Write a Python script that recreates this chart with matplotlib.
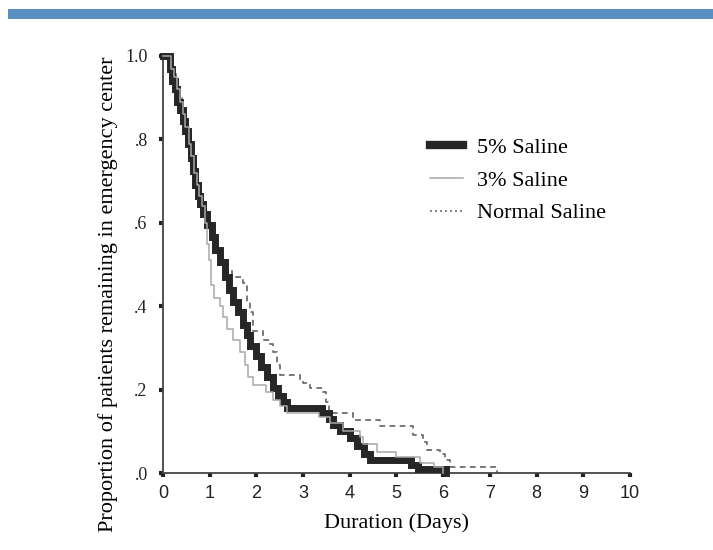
import matplotlib
matplotlib.use("Agg")
import matplotlib.pyplot as plt
from matplotlib.lines import Line2D

# Kaplan-Meier style step data: time in days, proportion still in the emergency center
five_t = [0.00, 0.15, 0.20, 0.26, 0.30, 0.36, 0.43, 0.48, 0.54, 0.60, 0.64, 0.69, 0.75,
          0.80, 0.86, 0.95, 1.05, 1.12, 1.22, 1.33, 1.42, 1.50, 1.60, 1.71, 1.80, 1.86,
          2.00, 2.10, 2.22, 2.35, 2.47, 2.57, 2.65, 3.40, 3.55, 3.64, 3.80, 4.00, 4.15,
          4.30, 4.43, 5.30, 5.45, 6.05]
five_s = [1.00, 0.97, 0.94, 0.92, 0.89, 0.87, 0.845, 0.82, 0.79, 0.755, 0.725, 0.69, 0.665,
          0.645, 0.62, 0.595, 0.565, 0.535, 0.505, 0.47, 0.44, 0.41, 0.385, 0.355, 0.33, 0.305,
          0.28, 0.255, 0.23, 0.205, 0.185, 0.17, 0.155, 0.145, 0.13, 0.115, 0.10, 0.085, 0.065,
          0.045, 0.03, 0.02, 0.01, 0.0]

three_t = [0.00, 0.18, 0.24, 0.30, 0.36, 0.42, 0.48, 0.55, 0.60, 0.66, 0.72, 0.78, 0.84,
           0.90, 0.94, 0.98, 1.03, 1.10, 1.22, 1.29, 1.37, 1.50, 1.65, 1.75, 1.82, 1.93,
           2.20, 2.35, 2.50, 2.65, 3.35, 3.57, 3.86, 4.22, 4.28, 4.58, 5.00, 5.50, 5.80, 6.00]
three_s = [1.00, 0.97, 0.95, 0.92, 0.89, 0.86, 0.83, 0.79, 0.76, 0.72, 0.69, 0.665, 0.64,
           0.60, 0.55, 0.51, 0.45, 0.42, 0.40, 0.375, 0.345, 0.32, 0.29, 0.26, 0.23, 0.21,
           0.195, 0.175, 0.16, 0.145, 0.135, 0.12, 0.10, 0.086, 0.07, 0.05, 0.038, 0.025, 0.015, 0.0]

normal_t = [0.00, 0.20, 0.27, 0.33, 0.40, 0.47, 0.53, 0.58, 0.64, 0.70, 0.76, 0.85, 0.95,
            1.05, 1.15, 1.25, 1.35, 1.47, 1.71, 1.80, 1.86, 1.93, 2.14, 2.28, 2.36, 2.45,
            2.50, 2.93, 3.00, 3.15, 3.43, 3.50, 3.56, 4.07, 4.65, 5.36, 5.57, 5.65, 5.93,
            6.04, 6.15, 7.15]
normal_s = [1.00, 0.97, 0.94, 0.90, 0.87, 0.83, 0.80, 0.76, 0.73, 0.69, 0.66, 0.63, 0.60,
            0.57, 0.54, 0.51, 0.49, 0.47, 0.455, 0.41, 0.385, 0.34, 0.32, 0.31, 0.29, 0.26,
            0.235, 0.225, 0.215, 0.205, 0.195, 0.17, 0.145, 0.127, 0.113, 0.09, 0.075, 0.055,
            0.045, 0.03, 0.015, 0.0]

labels = ["5% Saline", "3% Saline", "Normal Saline"]
x_ticks = list(range(0, 11))
y_ticks = [0.0, 0.2, 0.4, 0.6, 0.8, 1.0]
y_tick_labels = [".0", ".2", ".4", ".6", ".8", "1.0"]

serif = "Liberation Serif"
sans = "Liberation Sans"

fig = plt.figure(figsize=(7.13, 5.5), dpi=100)
ax = fig.add_axes([163 / 713, 1 - 473 / 550, 467 / 713, 417 / 550])

# blue banner across the top
fig.add_artist(plt.Rectangle((8 / 713, 1 - 19 / 550), 1, 10 / 550,
                             transform=fig.transFigure, color="#5a8fc4", lw=0))

ax.plot(normal_t, normal_s, drawstyle="steps-post", color="#6e6e6e", lw=1.3,
        dashes=(3.2, 2.4), clip_on=False, zorder=2)
ax.plot(five_t, five_s, drawstyle="steps-post", color="#262626", lw=5.0,
        solid_joinstyle="miter", clip_on=False, zorder=3)
ax.plot(three_t, three_s, drawstyle="steps-post", color="#a8a8a8", lw=1.1,
        clip_on=False, zorder=4)

ax.set_xlim(0, 10)
ax.set_ylim(0, 1)
for side in ["top", "right"]:
    ax.spines[side].set_visible(False)
for side in ["left", "bottom"]:
    ax.spines[side].set_color("#444444")
    ax.spines[side].set_linewidth(1.3)

ax.set_xticks(x_ticks)
ax.set_xticklabels([str(t) for t in x_ticks], fontfamily=sans, fontsize=13, color="#222222")
ax.set_yticks(y_ticks)
ax.set_yticklabels(y_tick_labels, fontfamily=serif, fontsize=13, color="#222222")
ax.tick_params(axis="both", direction="out", length=3, width=3, color="#222222")
ax.tick_params(axis="x", pad=6)
ax.tick_params(axis="y", pad=8)

ax.set_xlabel("Duration (Days)", fontfamily=serif, fontsize=16, labelpad=8)
fig.text(108 / 713, 1 - 294 / 550, "Proportion of patients remaining in emergency center",
         rotation=90, ha="center", va="center", fontfamily=serif, fontsize=16)

handles = [
    Line2D([], [], color="#262626", lw=6),
    Line2D([], [], color="#a8a8a8", lw=1.1),
    Line2D([], [], color="#6e6e6e", lw=1.2, linestyle=(0, (1.2, 1.8))),
]
ax.legend(handles, labels, loc="upper left", bbox_to_anchor=(0.572, 0.805),
          frameon=False, prop={"family": serif, "size": 16}, handlelength=1.5,
          handletextpad=0.6, labelspacing=0.55, borderpad=0, borderaxespad=0)

fig.savefig("out.png", dpi=100)
